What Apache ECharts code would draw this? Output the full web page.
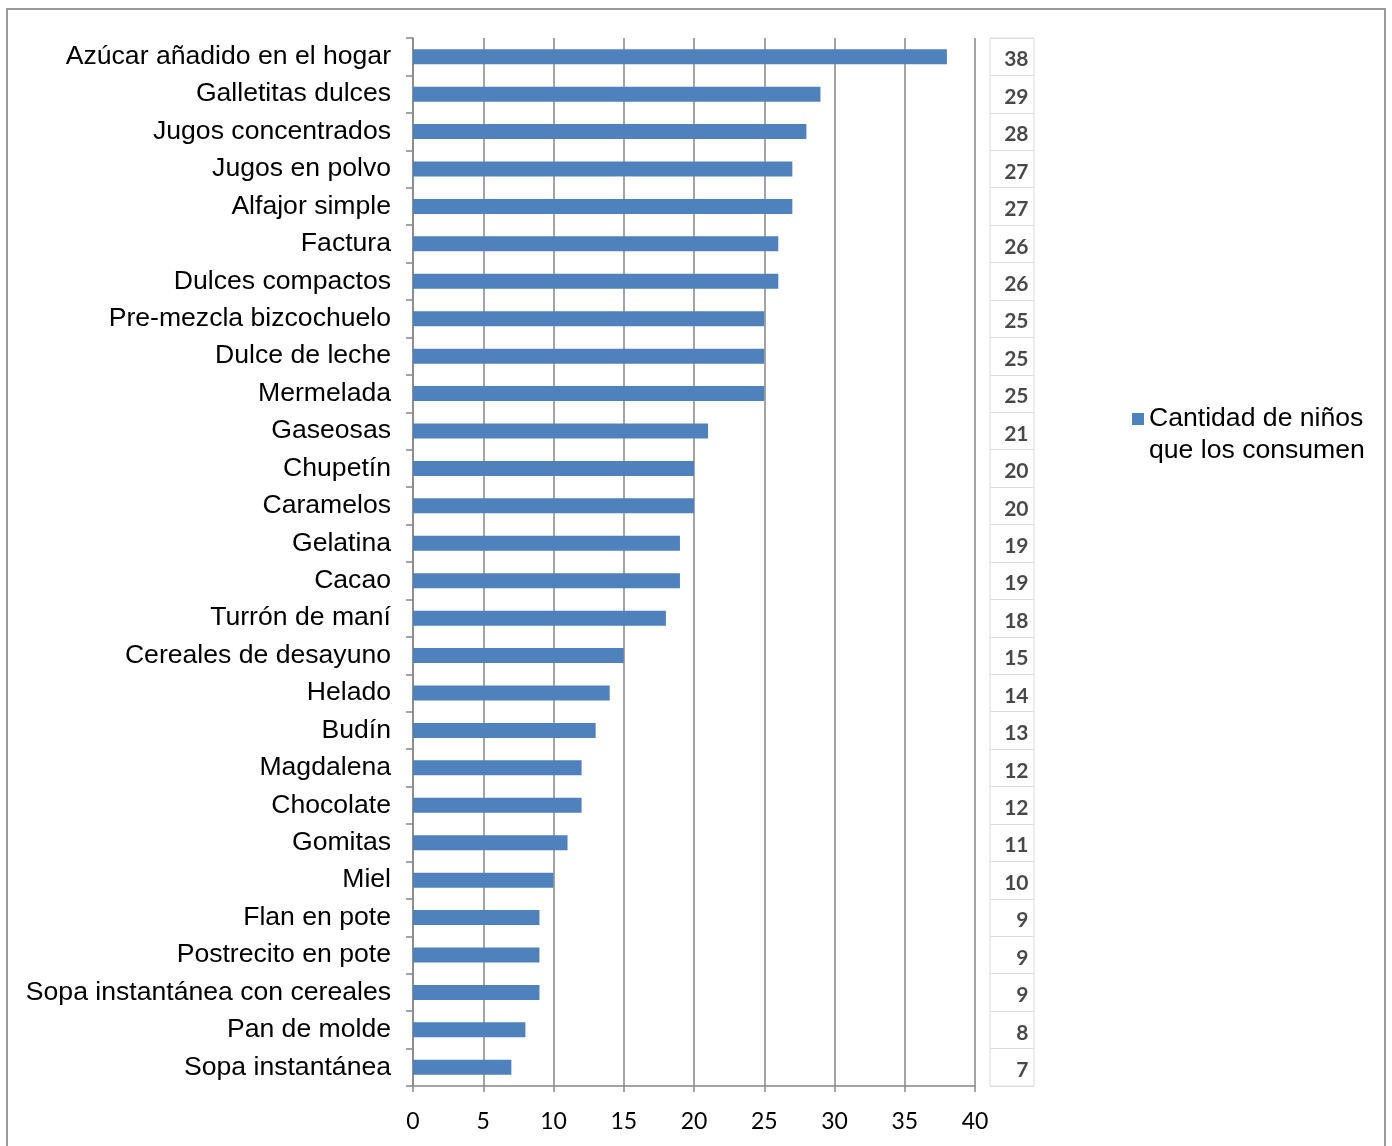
<!DOCTYPE html>
<html>
<head>
<meta charset="utf-8">
<title>Cantidad de niños que los consumen</title>
<script src="https://cdn.jsdelivr.net/npm/echarts@6/dist/echarts.min.js"></script>
<style>
  html, body { margin: 0; padding: 0; background: #fff; }
  #chart { width: 1392px; height: 1146px; }
</style>
</head>
<body>
<div id="chart"></div>
<script>
// Products, listed top to bottom
const categories = [
  'Azúcar añadido en el hogar', 'Galletitas dulces', 'Jugos concentrados', 'Jugos en polvo',
  'Alfajor simple', 'Factura', 'Dulces compactos', 'Pre-mezcla bizcochuelo', 'Dulce de leche',
  'Mermelada', 'Gaseosas', 'Chupetín', 'Caramelos', 'Gelatina', 'Cacao', 'Turrón de maní',
  'Cereales de desayuno', 'Helado', 'Budín', 'Magdalena', 'Chocolate', 'Gomitas', 'Miel',
  'Flan en pote', 'Postrecito en pote', 'Sopa instantánea con cereales', 'Pan de molde',
  'Sopa instantánea'
];
// Number of children consuming each product
const values = [38, 29, 28, 27, 27, 26, 26, 25, 25, 25, 21, 20, 20, 19, 19, 18, 15, 14, 13, 12, 12, 11, 10, 9, 9, 9, 8, 7];
const seriesName = 'Cantidad de niños\nque los consumen';
const xTicks = { min: 0, max: 40, interval: 5 };

const axisGray = '#868686';
const labelFont = '"Liberation Sans", Arial, sans-serif';
const numFont = 'Lato, "Open Sans", sans-serif';

const chart = echarts.init(document.getElementById('chart'), null, { renderer: 'canvas' });

chart.setOption({
  animation: false,
  backgroundColor: '#fff',
  graphic: [{
    type: 'rect',
    shape: { x: 7, y: 9, width: 1378, height: 1160 },
    style: { fill: 'none', stroke: '#9a9a9a', lineWidth: 2 },
    silent: true
  }],
  legend: {
    data: [seriesName],
    left: 1127,
    top: 366,
    itemWidth: 12,
    itemHeight: 12,
    icon: 'rect',
    itemGap: 0,
    // a blank leading line keeps the marker level with the first text line
    formatter: name => ' \n' + name,
    textStyle: {
      fontFamily: labelFont,
      fontSize: 26.6,
      color: '#000',
      lineHeight: 32
    }
  },
  grid: [
    { left: 413, top: 38, width: 562, height: 1048 },
    { left: 990, top: 38, width: 44, height: 1048, show: true, borderColor: '#dcdcdc', borderWidth: 1, backgroundColor: 'transparent' }
  ],
  xAxis: [
    {
      gridIndex: 0,
      type: 'value',
      min: xTicks.min,
      max: xTicks.max,
      interval: xTicks.interval,
      axisLine: { show: true, lineStyle: { color: axisGray, width: 1.5 } },
      axisTick: { show: true, length: 6, lineStyle: { color: axisGray, width: 1.5 } },
      splitLine: { show: true, lineStyle: { color: axisGray, width: 1.5 } },
      axisLabel: { margin: 24, fontFamily: numFont, fontSize: 23, color: '#000' }
    },
    { gridIndex: 1, type: 'value', min: 0, max: 1, show: false }
  ],
  yAxis: [
    {
      gridIndex: 0,
      type: 'category',
      data: categories,
      inverse: true,
      axisLine: { show: true, lineStyle: { color: axisGray, width: 1.5 } },
      axisTick: { show: true, length: 7, alignWithLabel: false, lineStyle: { color: axisGray, width: 1.5 } },
      splitLine: { show: false },
      axisLabel: { margin: 22, fontFamily: labelFont, fontSize: 26.6, color: '#000' }
    },
    {
      gridIndex: 1,
      type: 'category',
      data: categories,
      inverse: true,
      axisLine: { show: false },
      axisTick: { show: false },
      axisLabel: { show: false },
      splitLine: { show: true, lineStyle: { color: '#dcdcdc', width: 1 } }
    }
  ],
  series: [
    {
      name: seriesName,
      type: 'bar',
      xAxisIndex: 0,
      yAxisIndex: 0,
      data: values,
      barWidth: 15,
      itemStyle: { color: '#4F81BD' }
    },
    {
      name: 'tabla',
      type: 'scatter',
      xAxisIndex: 1,
      yAxisIndex: 1,
      data: values.map((v, i) => [1, i, v]),
      encode: { x: 0, y: 1 },
      symbolSize: 1,
      itemStyle: { color: 'rgba(0,0,0,0)' },
      silent: true,
      label: {
        show: true,
        position: 'left',
        distance: 5,
        offset: [0, 3],
        formatter: p => String(p.value[2]),
        fontFamily: numFont,
        fontSize: 21,
        fontWeight: 'bold',
        color: '#1a1a1a'
      }
    }
  ]
});
</script>
</body>
</html>
